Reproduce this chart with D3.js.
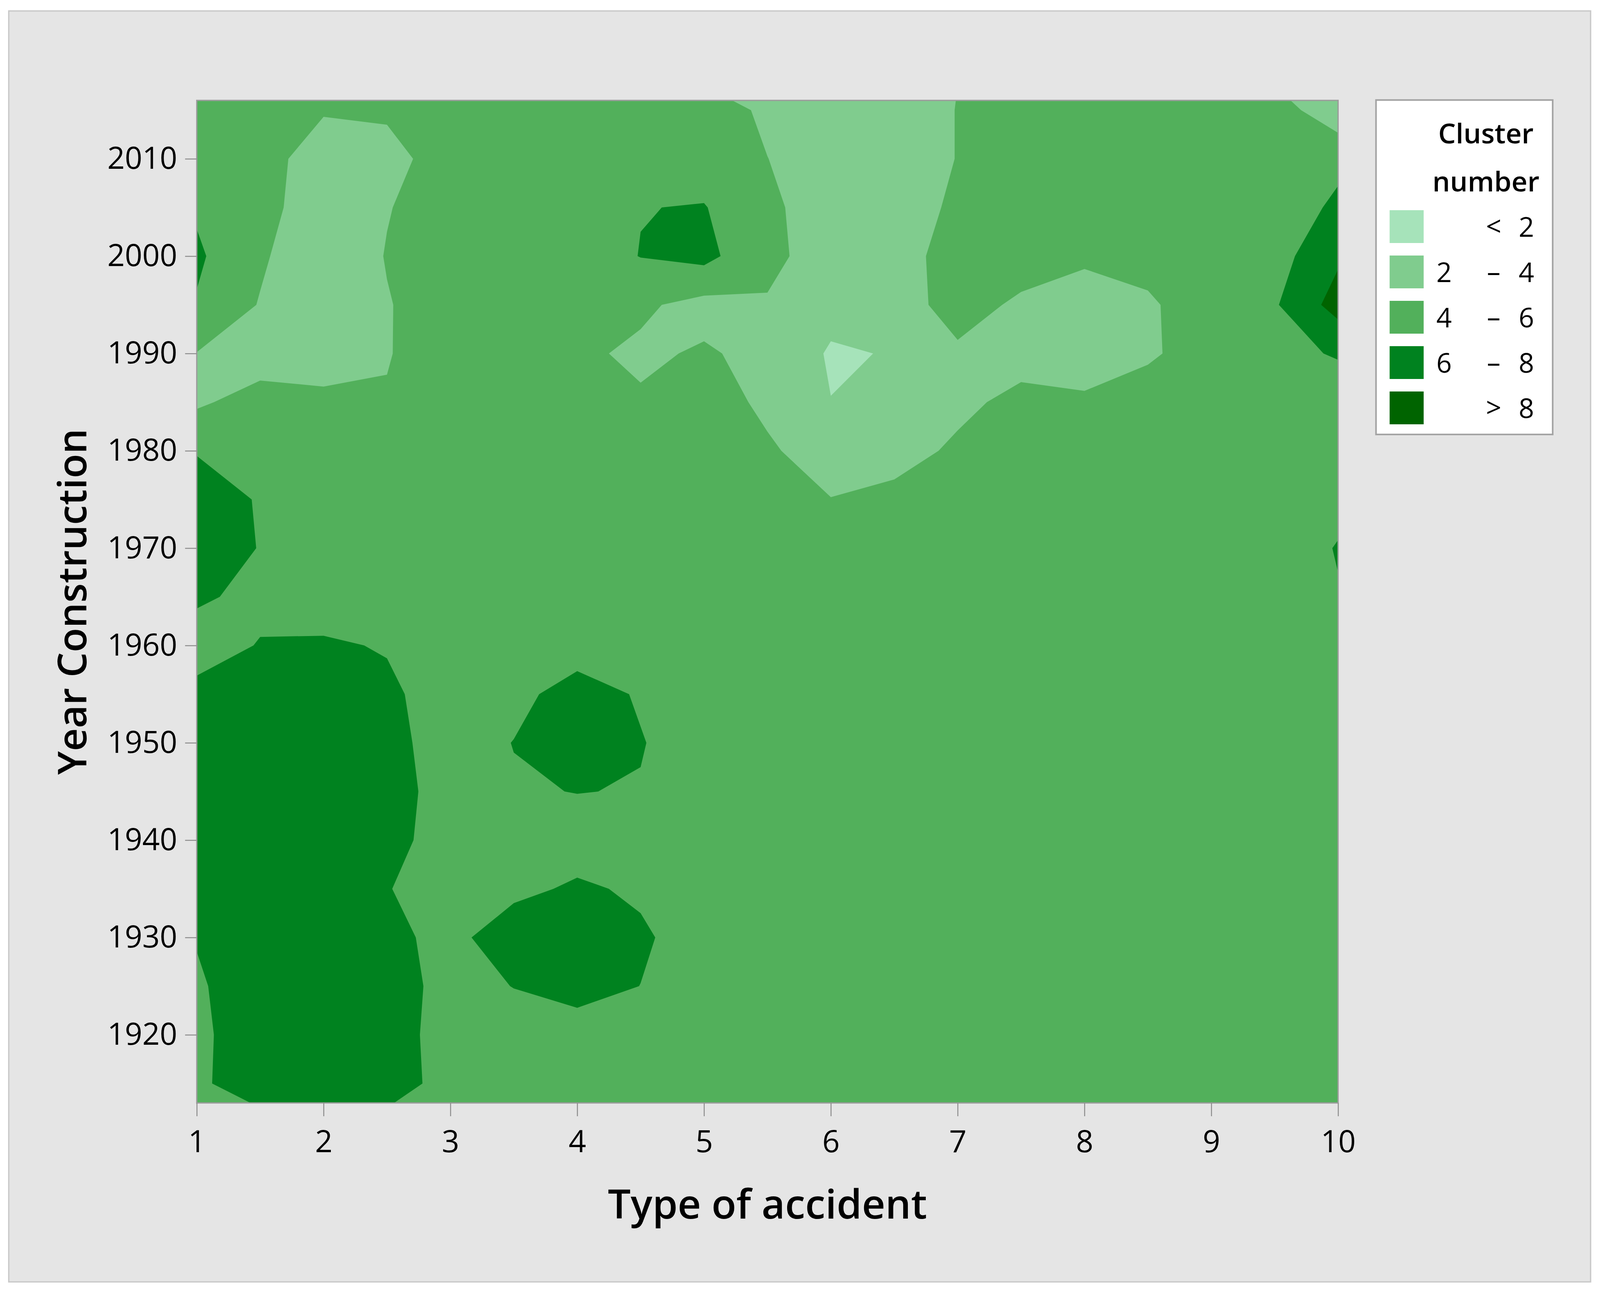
<!DOCTYPE html>
<html>
<head>
<meta charset="utf-8">
<script src="https://cdn.jsdelivr.net/npm/d3@7"></script>
<style>
  html, body { margin: 0; padding: 0; background: #ffffff; overflow: hidden; }
  svg { display: block; }
  text { font-family: "Open Sans", "Noto Sans", sans-serif; fill: #000; }
</style>
</head>
<body>
<svg id="chart"></svg>
<script>
// cluster number, one row per construction year (top = newest)
const accidentTypes = [1, 1.5, 2, 2.5, 3, 3.5, 4, 4.5, 5, 5.5, 6, 6.5, 7, 7.5, 8, 8.5, 9, 9.5, 10]
const years = [2015, 2010, 2005, 2000, 1995, 1990, 1985, 1980, 1975, 1970, 1965,
  1960, 1955, 1950, 1945, 1940, 1935, 1930, 1925, 1920, 1915]
const clusterGrid = [
  [5, 5, 4.2, 4.3, 5, 5, 5, 5, 5, 3.65, 3.0, 3.0, 4.05, 5, 5, 5, 5, 5, 2.6],
  [5, 5, 2.75, 3.3, 5, 5, 5, 5, 5, 4.02, 3.0, 3.0, 4.05, 5, 5, 5, 5, 5, 5.6],
  [5.76, 5, 2.3, 3.9, 5, 5, 5, 5.95, 6.1, 4.39, 3.0, 3.0, 4.35, 5, 5, 5, 5, 5, 6.32],
  [6.3, 4.3, 2.4, 4.1, 5, 5, 5, 6.05, 6.6, 4.3, 3.44, 3.0, 5.0, 5, 4.5, 4.6, 5, 5.2, 7.7],
  [5.86, 3.88, 2.5, 3.89, 5, 5, 5, 4.3, 3.4, 3.9, 2.6, 3.0, 4.85, 3.64, 2.6, 3.75, 5, 5.8, 8.8],
  [3.95, 3.0, 2.6, 3.9, 5, 5, 4.3, 3.7, 4.2, 3.5, 1.8, 2.1, 3.67, 3.0, 3.0, 3.7, 5, 5.5, 6.15],
  [3.7, 4.8, 4.66, 4.13, 5, 5, 5, 4.2, 5, 3.57, 2.03, 3.0, 3.4, 4.7, 4.3, 5, 5, 5, 5],
  [5.85, 5, 5, 5, 5, 5, 5, 5, 5, 4.28, 3.0, 3.0, 4.43, 5, 5, 5, 5, 5, 5],
  [7.3, 5.8, 5, 5, 5, 5, 5, 5, 5, 5, 4.05, 4.7, 5, 5, 5, 5, 5, 5, 5.5],
  [7.5, 5.9, 5, 5, 5, 5, 5, 5, 5, 5, 5, 5, 5, 5, 5, 5, 5, 5, 6.1],
  [6.4, 5.3, 5, 5, 5, 5, 5, 5, 5, 5, 5, 5, 5, 5, 5, 5, 5, 5, 5.9],
  [4.73, 6.15, 6.25, 5.86, 5, 5, 5, 5, 5, 5, 5, 5, 5, 5, 5, 5, 5, 5, 5],
  [6.78, 7, 7, 6.39, 5, 5.4, 6.9, 5.8, 5, 5, 5, 5, 5, 5, 5, 5, 5, 5, 5],
  [7, 7, 7, 6.67, 5, 6.05, 7.5, 6.1, 5, 5, 5, 5, 5, 5, 5, 5, 5, 5, 5],
  [7, 7, 7, 6.98, 5, 5.8, 6.05, 5.9, 5, 5, 5, 5, 5, 5, 5, 5, 5, 5, 5],
  [7, 7, 7, 6.72, 5, 5, 5, 5, 5, 5, 5, 5, 5, 5, 5, 5, 5, 5, 5],
  [7, 7, 7, 6.09, 5, 5.5, 6.3, 5.7, 5, 5, 5, 5, 5, 5, 5, 5, 5, 5, 5],
  [6.09, 7, 7, 6.5, 5.4, 7.2, 7.3, 6.3, 5, 5, 5, 5, 5, 5, 5, 5, 5, 5, 5],
  [5.78, 7, 7, 7.08, 5.2, 6.05, 6.8, 5.98, 5, 5, 5, 5, 5, 5, 5, 5, 5, 5, 5],
  [5.63, 7, 7, 7.08, 5, 5, 5, 5, 5, 5, 5, 5, 5, 5, 5, 5, 5, 5, 5],
  [5.68, 7, 7, 7.27, 5, 5, 5, 5, 5, 5, 5, 5, 5, 5, 5, 5, 5, 5, 5]
]

const xTicks = [1, 2, 3, 4, 5, 6, 7, 8, 9, 10]
const yTicks = [1920, 1930, 1940, 1950, 1960, 1970, 1980, 1990, 2000, 2010]

// contour breaks and fills, lightest band first
const levels = [2, 4, 6, 8]
const levelColors = ['#a6e3ba', '#80cc8e', '#52b05b', '#00821f', '#006400']
const legendFrom = ['', '2', '4', '6', '']
const legendSign = ['<', '–', '–', '–', '>']
const legendTo = ['2', '4', '6', '8', '8']

// layout is worked out on a 4936 x 3312 sheet and stretched to the window
const W = window.innerWidth || 4936
const H = window.innerHeight || 3312
const sx = W / 4936, sy = H / 3312
const px = v => v * sx
const py = v => v * sy
const fs = v => (v * Math.sqrt(sx * sy)) + 'px'
const sw = v => v * Math.min(sx, sy)

const svg = d3.select('#chart').attr('width', W).attr('height', H)

// grey panel behind everything
svg.append('rect')
  .attr('x', px(27)).attr('y', py(28))
  .attr('width', px(4880)).attr('height', py(3253))
  .attr('fill', '#e5e5e5')
  .attr('stroke', '#c8c8c8')
  .attr('stroke-width', sw(4))

const plot = { left: px(607), right: px(4128), top: py(257), bottom: py(2823) }

const x = d3.scaleLinear().domain([1, 10]).range([plot.left, plot.right])
const y = d3.scaleLinear().domain([1913, 2016]).range([plot.bottom, plot.top])

// d3.contours puts grid value i at i + 0.5
const nx = accidentTypes.length, ny = years.length
const gx = d3.scaleLinear().domain([0.5, nx - 0.5])
  .range([x(accidentTypes[0]), x(accidentTypes[nx - 1])])
const gy = d3.scaleLinear().domain([0.5, ny - 0.5])
  .range([y(years[0]), y(years[ny - 1])])

const path = d3.geoPath(d3.geoTransform({
  point: function(a, b) { this.stream.point(gx(a), gy(b)) }
}))

const bands = d3.contours()
  .size([nx, ny])
  .thresholds(levels)(clusterGrid.flat())

svg.append('clipPath').attr('id', 'plotclip')
  .append('rect')
  .attr('x', plot.left).attr('y', plot.top)
  .attr('width', plot.right - plot.left)
  .attr('height', plot.bottom - plot.top)

const area = svg.append('g').attr('clip-path', 'url(#plotclip)')

area.append('rect')
  .attr('x', plot.left).attr('y', plot.top)
  .attr('width', plot.right - plot.left)
  .attr('height', plot.bottom - plot.top)
  .attr('fill', levelColors[0])

area.selectAll('path.band')
  .data(bands)
  .join('path')
  .attr('class', 'band')
  .attr('d', path)
  .attr('fill', (d, i) => levelColors[i + 1])

// frame
svg.append('rect')
  .attr('x', plot.left).attr('y', plot.top)
  .attr('width', plot.right - plot.left)
  .attr('height', plot.bottom - plot.top)
  .attr('fill', 'none')
  .attr('stroke', '#9c9c9c')
  .attr('stroke-width', sw(4))

// axes
const xAxis = svg.append('g')
  .attr('transform', `translate(0,${plot.bottom})`)
  .call(d3.axisBottom(x).tickValues(xTicks).tickSize(py(34)).tickPadding(py(36)).tickFormat(d3.format('d')))
const yAxis = svg.append('g')
  .attr('transform', `translate(${plot.left},0)`)
  .call(d3.axisLeft(y).tickValues(yTicks).tickSize(px(36)).tickPadding(px(24)).tickFormat(d3.format('d')))

;[xAxis, yAxis].forEach(g => {
  g.select('.domain').remove()
  g.selectAll('.tick line').attr('stroke', '#8c8c8c').attr('stroke-width', sw(3))
  g.selectAll('.tick text')
    .attr('fill', '#000')
    .style('font-family', '"Open Sans", sans-serif')
    .style('font-size', fs(86))
    .style('font-weight', 500)
})

svg.append('text')
  .attr('x', (plot.left + plot.right) / 2)
  .attr('y', py(3119))
  .attr('text-anchor', 'middle')
  .style('font-size', fs(114))
  .style('font-weight', 600)
  .text('Type of accident')

svg.append('text')
  .attr('transform', `translate(${px(266)},${(plot.top + plot.bottom) / 2}) rotate(-90)`)
  .attr('text-anchor', 'middle')
  .style('font-size', fs(112))
  .style('font-weight', 600)
  .text('Year Construction')

// legend
const legend = svg.append('g')
legend.append('rect')
  .attr('x', px(4245)).attr('y', py(256))
  .attr('width', px(545)).attr('height', py(856))
  .attr('fill', '#ffffff')
  .attr('stroke', '#a4a4a4')
  .attr('stroke-width', sw(5))

legend.append('text')
  .attr('x', px(4584)).attr('y', py(367))
  .attr('text-anchor', 'middle')
  .style('font-size', fs(78))
  .style('font-weight', 600)
  .text('Cluster')
legend.append('text')
  .attr('x', px(4584)).attr('y', py(490))
  .attr('text-anchor', 'middle')
  .style('font-size', fs(78))
  .style('font-weight', 600)
  .text('number')

const rows = legend.selectAll('g.row')
  .data(levelColors)
  .join('g')
  .attr('class', 'row')
  .attr('transform', (d, i) => `translate(0,${py(580 + i * 116)})`)

rows.append('rect')
  .attr('x', px(4287)).attr('y', py(-42))
  .attr('width', px(105)).attr('height', py(84))
  .attr('fill', d => d)

rows.append('text')
  .attr('x', px(4455)).attr('y', py(26))
  .attr('text-anchor', 'middle')
  .style('font-size', fs(76))
  .style('font-weight', 500)
  .text((d, i) => legendFrom[i])
rows.append('text')
  .attr('x', px(4608)).attr('y', py(24))
  .attr('text-anchor', 'middle')
  .style('font-size', fs(76))
  .style('font-weight', 500)
  .text((d, i) => legendSign[i])
rows.append('text')
  .attr('x', px(4709)).attr('y', py(26))
  .attr('text-anchor', 'middle')
  .style('font-size', fs(76))
  .style('font-weight', 500)
  .text((d, i) => legendTo[i])
</script>
</body>
</html>
